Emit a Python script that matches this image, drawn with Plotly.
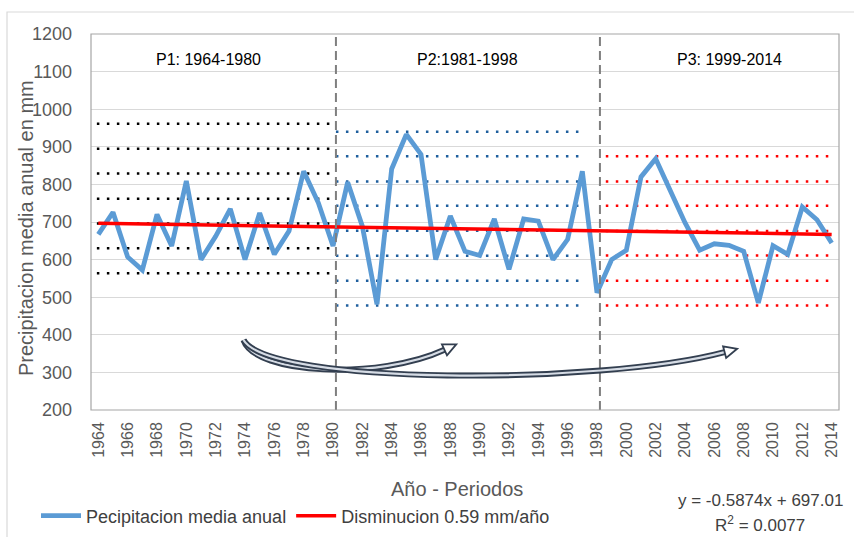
import plotly.graph_objects as go

# --- annual precipitation series -------------------------------------------
years = list(range(1964, 2015))
precip = [
    667, 726, 607, 572, 720, 636, 809, 600, 662, 735,   # 1964-1973
    600, 724, 614, 676, 835, 751, 636, 806, 689, 481,   # 1974-1983
    841, 933, 880, 600, 716, 622, 611, 708, 574, 708,   # 1984-1993
    702, 600, 654, 835, 512, 600, 625, 820, 868, 782,   # 1994-2003
    698, 625, 642, 638, 622, 485, 637, 614, 740, 706,   # 2004-2013
    644,                                                # 2014
]

# linear trend as printed on the chart (x = 1..51)
slope = -0.5874
intercept = 697.01
r_squared = 0.0077

# per-period reference levels (mm)
p1_levels = [564, 630, 696, 762, 829, 895, 961]
p2_levels = [478, 544, 610, 677, 743, 808, 875, 940]
p3_levels = [478, 544, 611, 676, 743, 808, 875]
period_labels = ["P1: 1964-1980", "P2:1981-1998", "P3: 1999-2014"]
period_breaks = [1980.2, 1998.2]
tick_years = list(range(1964, 2015, 2))

# --- geometry ---------------------------------------------------------------
W, H = 854, 537
ML, MR, MT, MB = 91, 15, 34, 127
PW, PH = W - ML - MR, H - MT - MB
XR = [1963.5, 2014.5]
YR = [200, 1200]
px_per_x = PW / (XR[1] - XR[0])
px_per_y = PH / (YR[1] - YR[0])


def px_to_paper(px, py):
    return (px - ML) / PW, (H - MB - py) / PH


GRAY_TXT = "#595959"
FONT = "Liberation Sans"

fig = go.Figure()

# period reference lines
for levels, xs, color in [
    (p1_levels, (1963.9, 1980.0), "#000000"),
    (p2_levels, (1980.2, 1997.2), "#1F5F9E"),
    (p3_levels, (1998.6, 2014.2), "#FF0000"),
]:
    for lv in levels:
        fig.add_trace(go.Scatter(
            x=list(xs), y=[lv, lv], mode="lines",
            line=dict(color=color, width=2.5, dash="2.5px,7.5px"),
            showlegend=False, hoverinfo="skip",
        ))

# precipitation series
fig.add_trace(go.Scatter(
    x=years, y=precip, mode="lines", name="Pecipitacion media anual",
    line=dict(color="#5B9BD5", width=4.8),
))

# trend line
trend = [slope * (i + 1) + intercept for i in range(len(years))]
fig.add_trace(go.Scatter(
    x=years, y=trend, mode="lines", name="Disminucion 0.59 mm/año",
    line=dict(color="#FF0000", width=3.5),
))

shapes = []

# period separators
for xb in period_breaks:
    shapes.append(dict(type="line", xref="x", yref="paper", x0=xb, x1=xb,
                       y0=0, y1=1,
                       line=dict(color="#7F7F7F", width=2, dash="9px,5px")))

# plot-area frame
shapes.append(dict(type="rect", xref="paper", yref="paper", x0=0, x1=1,
                   y0=0, y1=1, line=dict(color="#A6A6A6", width=1.2),
                   layer="above"))

# outer chart frame
fx0, fy1 = px_to_paper(7, 12)
shapes.append(dict(type="rect", xref="paper", yref="paper", x0=fx0, x1=2,
                   y0=-2, y1=fy1, line=dict(color="#D9D9D9", width=1.2)))


# curved arrows linking the periods
def curved_arrow(p0, p1, p2, p3, head_len=13, head_half=6):
    path = (f"M{p0[0]},{p0[1]} C{p1[0]},{p1[1]} {p2[0]},{p2[1]} "
            f"{p3[0]},{p3[1]}")
    out = [
        dict(type="path", xref="x", yref="y", path=path,
             line=dict(color="#333F50", width=6)),
        dict(type="path", xref="x", yref="y", path=path,
             line=dict(color="#D6DCE5", width=2.2)),
    ]
    # arrow head aligned with the end tangent (in screen space)
    dx = (p3[0] - p2[0]) * px_per_x
    dy = -(p3[1] - p2[1]) * px_per_y
    n = (dx ** 2 + dy ** 2) ** 0.5
    ux, uy = dx / n, dy / n
    nx, ny = -uy, ux
    pts_px = [(ux * head_len, uy * head_len),
              (nx * head_half, ny * head_half),
              (-nx * head_half, -ny * head_half)]
    pts = [(p3[0] + a / px_per_x, p3[1] - b / px_per_y) for a, b in pts_px]
    tri = "M{},{} L{},{} L{},{} Z".format(*[c for p in pts for c in p])
    out.append(dict(type="path", xref="x", yref="y", path=tri,
                    fillcolor="#FFFFFF",
                    line=dict(color="#333F50", width=1.8)))
    return out


shapes += curved_arrow((1973.9, 386), (1974.7, 293), (1983.2, 280),
                       (1987.6, 360))
shapes += curved_arrow((1973.9, 386), (1975.7, 266), (1998.2, 266),
                       (2006.7, 354))

annotations = []

# period titles
for lab, xc in zip(period_labels, [1971.5, 1989.2, 2007.0]):
    annotations.append(dict(x=xc, y=1131, xref="x", yref="y", text=lab,
                            showarrow=False, xanchor="center",
                            yanchor="middle",
                            font=dict(family=FONT, size=16, color="#000000")))


def paper_text(px, py, text, size, color, angle=0):
    x, y = px_to_paper(px, py)
    return dict(x=x, y=y, xref="paper", yref="paper", text=text,
                textangle=angle, showarrow=False, xanchor="center",
                yanchor="middle",
                font=dict(family=FONT, size=size, color=color))


# axis titles
annotations.append(paper_text(26, 228, "Precipitacion media anual en mm",
                              20, GRAY_TXT, angle=-90))
annotations.append(paper_text(457, 489, "Año - Periodos", 20, GRAY_TXT))

# trend equation
annotations.append(paper_text(760, 500, f"y = {slope}x + {intercept}",
                              17, "#404040"))
annotations.append(paper_text(760, 524, f"R<sup>2</sup> = {r_squared}",
                              17, "#404040"))

fig.update_layout(
    width=W, height=H,
    margin=dict(l=ML, r=MR, t=MT, b=MB, autoexpand=False),
    paper_bgcolor="#FFFFFF", plot_bgcolor="#FFFFFF",
    showlegend=True,
    legend=dict(orientation="h", xref="container", yref="container",
                x=36 / W, y=(H - 516) / H, xanchor="left",
                yanchor="middle", font=dict(family=FONT, size=18,
                                            color="#404040"),
                itemwidth=40, bgcolor="rgba(0,0,0,0)"),
    xaxis=dict(range=XR, tickvals=tick_years,
               ticktext=[str(y) for y in tick_years], tickangle=-90,
               showgrid=False, zeroline=False, showline=False,
               ticks="", ticklabelstandoff=8, automargin=False,
               tickfont=dict(family=FONT, size=16, color=GRAY_TXT)),
    yaxis=dict(range=YR, dtick=100, showgrid=True, gridcolor="#D9D9D9",
               gridwidth=1, zeroline=False, showline=False, ticks="",
               ticklabelstandoff=18, automargin=False,
               tickfont=dict(family=FONT, size=18, color=GRAY_TXT)),
    shapes=shapes,
    annotations=annotations,
)

fig.write_html("out.html")
